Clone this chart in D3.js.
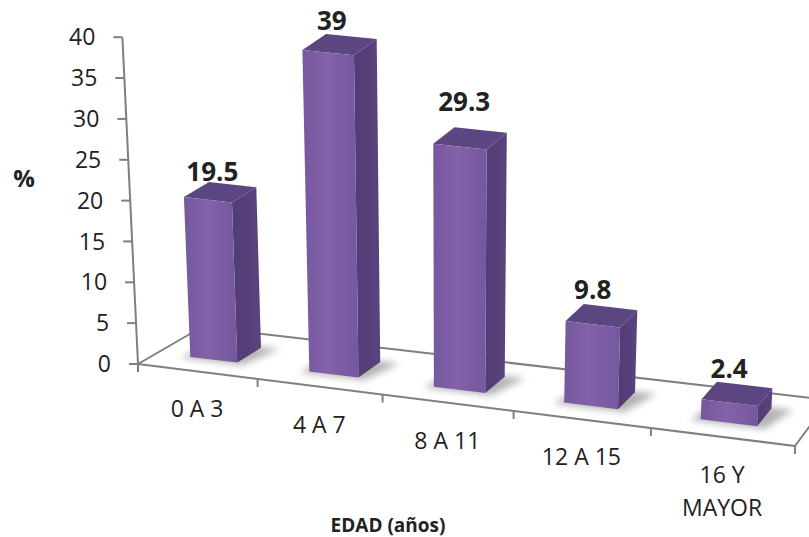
<!DOCTYPE html>
<html><head><meta charset="utf-8">
<script src="https://cdn.jsdelivr.net/npm/d3@7/dist/d3.min.js"></script>
<style>html,body{margin:0;background:#fff}svg{display:block}text{font-family:"Open Sans","Noto Sans",sans-serif;fill:#222}</style>
</head><body><svg id="c" width="809" height="537"></svg>
<script>
const categories = [["0 A 3"], ["4 A 7"], ["8 A 11"], ["12 A 15"], ["16 Y", "MAYOR"]];
const values = [19.5, 39, 29.3, 9.8, 2.4];
const yTicks = [0, 5, 10, 15, 20, 25, 30, 35, 40];

const svg = d3.select("#c");

// Floor plane of the 3D box, as screen corners: front-left, front-right, back-right, back-left
const floor = [[138, 364], [795, 446], [829, 400], [202, 327]];
// Vertical edges converge on a far vanishing point below the chart
const vanish = [450, 6900];

// Unit square to quadrilateral homography
function squareToQuad(q) {
  const [[x0, y0], [x1, y1], [x2, y2], [x3, y3]] = q;
  const dx1 = x1 - x2, dx2 = x3 - x2, sx = x0 - x1 + x2 - x3;
  const dy1 = y1 - y2, dy2 = y3 - y2, sy = y0 - y1 + y2 - y3;
  const den = dx1 * dy2 - dx2 * dy1;
  const g = (sx * dy2 - dx2 * sy) / den, h = (dx1 * sy - sx * dy1) / den;
  return { a: x1 - x0 + g * x1, b: x3 - x0 + h * x3, c: x0,
           d: y1 - y0 + g * y1, e: y3 - y0 + h * y3, f: y0, g, h };
}
const H0 = squareToQuad(floor);

const uScale = d3.scaleBand().domain(d3.range(values.length)).range([-0.003, 0.993]).paddingInner(0.6).paddingOuter(0.3);
const catScale = d3.scaleBand().domain(d3.range(values.length)).range([0, 1]);
const heightScale = d3.scaleLinear().domain([0, 40]).range([0, 0.05]);
const depth = [0.29, 0.68];

// Project category position u, depth v and value h to the screen;
// heights grow slightly toward the right-hand end, which sits nearer the viewer
function project(u, v, h) {
  const w = H0.g * u + H0.h * v + 1;
  const fx = (H0.a * u + H0.b * v + H0.c) / w;
  const fy = (H0.d * u + H0.e * v + H0.f) / w;
  const t = heightScale(h) * (1 + 0.04 * u);
  return [fx + (fx - vanish[0]) * t, fy + (fy - vanish[1]) * t];
}
const poly = pts => "M" + pts.map(p => p.map(n => n.toFixed(1)).join(",")).join("L") + "Z";
const line = (a, b) => "M" + a.map(n => n.toFixed(1)) + "L" + b.map(n => n.toFixed(1));

const defs = svg.append("defs");
defs.append("filter").attr("id", "soft").attr("x", "-30%").attr("y", "-30%").attr("width", "160%").attr("height", "160%")
  .append("feGaussianBlur").attr("stdDeviation", 3.5);
const frontGrad = defs.append("linearGradient").attr("id", "front");
[[0, "#76589f"], [0.45, "#8262a8"], [1, "#7557a0"]].forEach(([o, c]) =>
  frontGrad.append("stop").attr("offset", o).attr("stop-color", c));
const sideGrad = defs.append("linearGradient").attr("id", "side");
[[0, "#523c74"], [1, "#5a437e"]].forEach(([o, c]) =>
  sideGrad.append("stop").attr("offset", o).attr("stop-color", c));

// Box frame on the floor and the value axis
const axisColor = "#7f7f7f";
const frame = svg.append("g").attr("fill", "none").attr("stroke", axisColor).attr("stroke-width", 2);
frame.append("path").attr("d", line(project(0, 0, 0), project(0, 1, 0)));
frame.append("path").attr("d", line(project(0, 1, 0), project(1, 1, 0)));
frame.append("path").attr("d", line(project(1, 0, 0), project(1, 1, 0)));
frame.append("path").attr("d", line(project(0, 0, 0), project(1, 0, 0)));
frame.append("path").attr("d", line(project(0, 0, 0), project(0, 0, 40)));

yTicks.forEach(t => {
  const p = project(0, 0, t);
  frame.append("path").attr("d", line([p[0] - 9, p[1]], p));
  svg.append("text").attr("x", p[0] - 27).attr("y", p[1]).attr("dy", "0.35em")
    .attr("text-anchor", "end").attr("font-size", 23).attr("fill", "#333").text(t);
});

// Category ticks and labels along the front edge
d3.range(values.length + 1).forEach(i => {
  const u = i / values.length;
  const p = project(u, 0, 0);
  frame.append("path").attr("d", line(p, [p[0], p[1] + 8]));
});
categories.forEach((lines, i) => {
  const p = project(catScale(i) + catScale.bandwidth() / 2, 0, 0);
  const t = svg.append("text").attr("text-anchor", "middle").attr("font-size", 23);
  lines.forEach((s, k) => t.append("tspan").attr("x", p[0]).attr("y", p[1] + 46 + k * 33).text(s));
});

// Bars: floor shadow, then side, top and front faces
const bars = svg.append("g");
values.forEach((v, i) => {
  const u0 = uScale(i), u1 = u0 + uScale.bandwidth();
  const [d0, d1] = depth;
  const g = bars.append("g");
  g.append("path").attr("filter", "url(#soft)").attr("fill", "#9a9a9a").attr("opacity", 0.75)
    .attr("d", poly([project(u0 - 0.012, d0 - 0.04, 0), project(u1 + 0.012, d0 - 0.04, 0),
                     project(u1 + 0.03, d1 + 0.02, 0), project(u0, d1, 0)]));
  g.append("path").attr("fill", "url(#side)")
    .attr("d", poly([project(u1, d0, 0), project(u1, d1, 0), project(u1, d1, v), project(u1, d0, v)]));
  g.append("path").attr("fill", "#5c4681")
    .attr("d", poly([project(u0, d0, v), project(u1, d0, v), project(u1, d1, v), project(u0, d1, v)]));
  g.append("path").attr("fill", "url(#front)")
    .attr("d", poly([project(u0, d0, 0), project(u1, d0, 0), project(u1, d0, v), project(u0, d0, v)]));
});

// Value labels above each bar
const labelNudge = [0, 0, 2, -1, 0];
const labelLift = [20, 24, 36, 26, 25];
values.forEach((v, i) => {
  const u = uScale(i) + uScale.bandwidth() / 2;
  const p = project(u, (depth[0] + depth[1]) / 2, v);
  svg.append("text").attr("x", p[0] - 8 + labelNudge[i]).attr("y", p[1] - labelLift[i]).attr("dy", "0.35em")
    .attr("text-anchor", "middle").attr("font-size", 26).attr("font-weight", 700).attr("fill", "#111").text(v);
});

// Axis titles
svg.append("text").attr("x", 24).attr("y", 179).attr("dy", "0.35em").attr("text-anchor", "middle")
  .attr("font-size", 24).attr("font-weight", 700).text("%");
svg.append("text").attr("x", 388).attr("y", 525).attr("dy", "0.35em").attr("text-anchor", "middle")
  .attr("font-size", 19).attr("font-weight", 700).text("EDAD (años)");
</script></body></html>
